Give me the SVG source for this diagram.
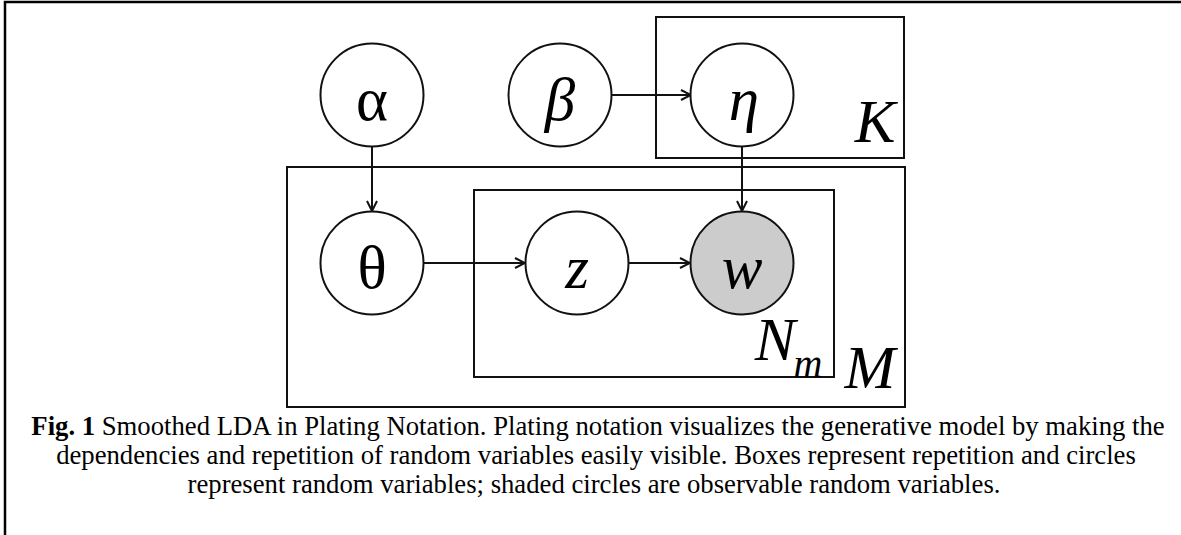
<svg xmlns="http://www.w3.org/2000/svg" width="1181" height="535" viewBox="0 0 1181 535">
<style>
.node{fill:#ffffff;stroke:#111;stroke-width:2}
.obs{fill:#cccccc;stroke:#111;stroke-width:2}
.plate{fill:none;stroke:#111;stroke-width:2}
.sym{font-family:"Liberation Serif","Times New Roman",serif;font-size:61px;fill:#000;text-anchor:middle}
.it{font-style:italic}
.edge{stroke:#111;stroke-width:2;fill:none;marker-end:url(#arr)}
.cap{font-family:"Liberation Serif","Times New Roman",serif;font-size:26.7px;fill:#000;text-anchor:middle}
</style>
<defs>
<marker id="arr" markerUnits="userSpaceOnUse" viewBox="0 0 12 12" refX="11" refY="6" markerWidth="12" markerHeight="12" orient="auto">
<path d="M1,1 L11,6 L1,11" fill="none" stroke="#111" stroke-width="2"/>
</marker>
</defs>
<rect width="1181" height="535" fill="#ffffff"/>
<path d="M5,535 V2 H1181" fill="none" stroke="#000" stroke-width="2.5"/>
<g id="plate-K"><rect class="plate" x="656" y="17" width="248" height="141"/><text class="sym it" x="875" y="142">K</text></g>
<g id="plate-M"><rect class="plate" x="287" y="167" width="618" height="240"/><text class="sym it" x="870" y="388">M</text></g>
<g id="plate-N"><rect class="plate" x="474" y="190" width="360" height="187"/><text class="sym it" x="775" y="360">N</text><text class="sym it" x="808" y="377" style="font-size:40px">m</text></g>
<g id="connectors">
<line class="edge" x1="372" y1="146" x2="372" y2="211"/>
<line class="edge" x1="611" y1="95" x2="691" y2="95"/>
<line class="edge" x1="742" y1="146" x2="742" y2="211"/>
<line class="edge" x1="424" y1="263" x2="525" y2="263"/>
<line class="edge" x1="628" y1="263" x2="690" y2="263"/>
</g>
<g id="node-alpha"><circle class="node" cx="372" cy="95" r="51.5"/><text class="sym" x="372" y="120">α</text></g>
<g id="node-beta"><circle class="node" cx="560" cy="95" r="51.5"/><text class="sym it" x="560" y="120">β</text></g>
<g id="node-eta"><circle class="node" cx="742" cy="95" r="51.5"/><text class="sym it" x="744" y="120">η</text></g>
<g id="node-theta"><circle class="node" cx="372" cy="263" r="51.5"/><text class="sym" x="372" y="288">θ</text></g>
<g id="node-z"><circle class="node" cx="577" cy="263" r="51.5"/><text class="sym it" x="577" y="288">z</text></g>
<g id="node-w"><circle class="obs" cx="742" cy="263" r="51.5"/><text class="sym it" x="742" y="288">w</text></g>
<g id="caption">
<text class="cap" x="598" y="435"><tspan font-weight="bold">Fig. 1</tspan> Smoothed LDA in Plating Notation. Plating notation visualizes the generative model by making the</text>
<text class="cap" x="596" y="464">dependencies and repetition of random variables easily visible. Boxes represent repetition and circles</text>
<text class="cap" x="594" y="493">represent random variables; shaded circles are observable random variables.</text>
</g>
</svg>
